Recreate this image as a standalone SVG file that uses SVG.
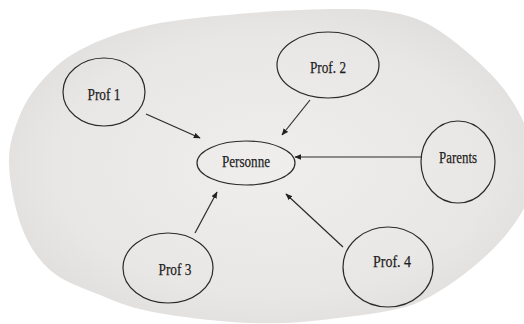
<svg xmlns="http://www.w3.org/2000/svg" width="524" height="324" viewBox="0 0 524 324">
<defs>
<radialGradient id="pg" cx="0.5" cy="0.5" r="0.55">
<stop offset="0" stop-color="#efeeec"/>
<stop offset="0.75" stop-color="#e9e7e5"/>
<stop offset="1" stop-color="#e1dfdd"/>
</radialGradient>
<marker id="ah" viewBox="0 0 10 10" refX="9" refY="5" markerWidth="7" markerHeight="7" orient="auto" markerUnits="userSpaceOnUse">
<path d="M0,1 L10,5 L0,9 Z" fill="#222"/>
</marker>
<style>
.n{fill:none;stroke:#2a2a2a;stroke-width:1.2}
.t{font-family:"Liberation Serif","Times New Roman",serif;font-size:17.5px;fill:#1e1e1e;stroke:#1e1e1e;stroke-width:0.25;text-anchor:middle}
.c line{stroke:#2a2a2a;stroke-width:1.2;marker-end:url(#ah)}
</style>
</defs>
<rect width="524" height="324" fill="#ffffff"/>
<path fill="url(#pg)" d="M9,165 C8.3,147 12.8,133.7 18,120 C23.2,106.3 29.7,94.7 40,83 C50.3,71.3 61.7,59.7 80,50 C98.3,40.3 121.7,31.2 150,25 C178.3,18.8 218.3,15.7 250,13 C281.7,10.3 316.7,9.2 340,9 C363.3,8.8 375.3,9.5 390,12 C404.7,14.5 415.2,17.3 428,24 C440.8,30.7 454.5,41.3 467,52 C479.5,62.7 493.2,75.3 503,88 C512.8,100.7 521,114.7 526,128 C531,141.3 533.7,154 533,168 C532.3,182 531,196.3 522,212 C513,227.7 497.3,246.5 479,262 C460.7,277.5 436.8,295.5 412,305 C387,312.8 357,315.7 330,319 C303,322.3 279.5,324.2 250,323 C220.5,321.8 178.8,317 153,312 C127.2,307 112.2,300 95,293 C77.8,286 62.2,280.8 50,270 C37.8,259.2 28.8,245.5 22,228 C15.2,210.5 9.7,183 9,165 Z"/>
<g class="c" id="connectors">
<line x1="146" y1="114" x2="200" y2="138"/>
<line x1="310" y1="100" x2="282" y2="135"/>
<line x1="421" y1="157" x2="295" y2="157"/>
<line x1="195" y1="233" x2="217" y2="192"/>
<line x1="343" y1="247" x2="286" y2="194"/>
</g>
<g id="prof1"><ellipse class="n" cx="104" cy="92" rx="41" ry="34"/><text class="t" x="104" y="100" textLength="33" lengthAdjust="spacingAndGlyphs">Prof 1</text></g>
<g id="prof2"><ellipse class="n" cx="328" cy="65" rx="51" ry="33"/><text class="t" x="328" y="73" textLength="36" lengthAdjust="spacingAndGlyphs">Prof. 2</text></g>
<g id="personne"><ellipse class="n" cx="246" cy="163" rx="49" ry="22"/><text class="t" x="246" y="167" textLength="48" lengthAdjust="spacingAndGlyphs">Personne</text></g>
<g id="parents"><ellipse class="n" cx="458" cy="162" rx="37" ry="41"/><text class="t" x="458" y="163" textLength="38" lengthAdjust="spacingAndGlyphs">Parents</text></g>
<g id="prof3"><ellipse class="n" cx="168" cy="268" rx="45" ry="35"/><text class="t" x="175" y="275" textLength="33" lengthAdjust="spacingAndGlyphs">Prof 3</text></g>
<g id="prof4"><ellipse class="n" cx="388" cy="267" rx="45" ry="40"/><text class="t" x="392" y="267" textLength="38" lengthAdjust="spacingAndGlyphs">Prof. 4</text></g>
</svg>
